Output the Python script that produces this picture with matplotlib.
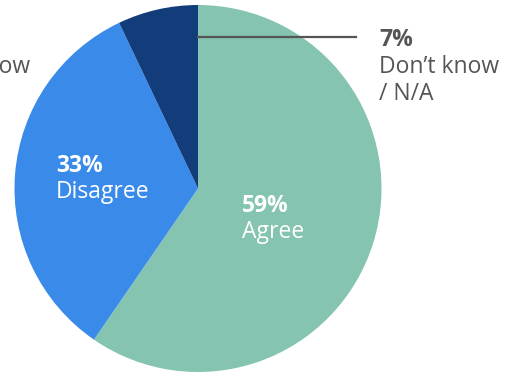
import matplotlib.pyplot as plt

# survey answers, share of respondents
labels = ["Agree", "Disagree", "Don\u2019t know\n/ N/A"]
shares = [59, 33, 7]
colors = ["#85c4b0", "#3a8be9", "#133c7b"]

plt.rcParams["font.family"] = ["Open Sans", "DejaVu Sans"]

W, H = 510, 377
fig = plt.figure(figsize=(W / 100, H / 100), dpi=100)
ax = fig.add_axes([0, 0, 1, 1])

cx, cy, r = 198, H - 188.5, 183.5
ax.pie(shares, colors=colors, startangle=90, counterclock=False,
       center=(cx, cy), radius=r, frame=True,
       wedgeprops=dict(linewidth=0))
ax.set_xlim(0, W)
ax.set_ylim(0, H)
ax.set_aspect("equal")
ax.axis("off")

grey = "#555555"
fs = 16.5

# leader line for the small slice
ax.plot([cx, 356], [H - 37, H - 37], color=grey, lw=1.6)
ax.text(379, H - 46, "{}%".format(shares[2]), fontsize=fs, fontweight="bold",
        color=grey, va="baseline")
ax.text(379, H - 73, "Don\u2019t know", fontsize=fs, color=grey, va="baseline")
ax.text(379, H - 100, "/ N/A", fontsize=fs, color=grey, va="baseline")

# inner labels
ax.text(56, H - 172, "{}%".format(shares[1]), fontsize=fs, fontweight="bold",
        color="white", va="baseline")
ax.text(56, H - 198, labels[1], fontsize=fs, color="white", va="baseline")
ax.text(242, H - 212, "{}%".format(shares[0]), fontsize=fs, fontweight="bold",
        color="white", va="baseline")
ax.text(242, H - 238, labels[0], fontsize=fs, color="white", va="baseline")

# neighbouring label cut off at the left edge
ax.text(30, H - 73, "Don\u2019t know", fontsize=fs, color=grey, ha="right",
        va="baseline")

fig.savefig("out.png", dpi=100)
